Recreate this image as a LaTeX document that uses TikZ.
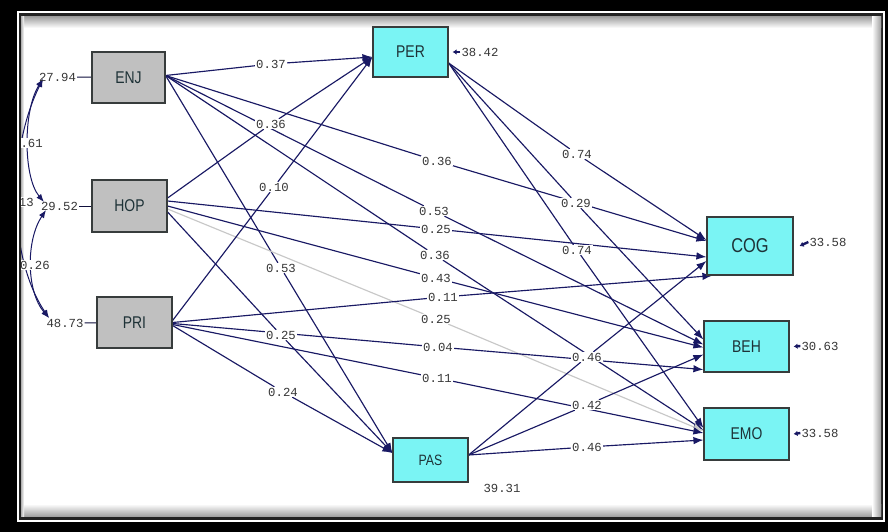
\documentclass[tikz,border=0pt]{standalone}
\usepackage{fontspec}
\newfontfamily\boxfont[FakeStretch=0.82]{Liberation Sans}
\newfontfamily\numfont{Liberation Mono}
\usetikzlibrary{arrows.meta}
\pgfdeclarelayer{bg}
\pgfdeclarelayer{edges}
\pgfdeclarelayer{fg}
\pgfsetlayers{bg,edges,main,fg}
\definecolor{navy}{RGB}{25,25,100}
\definecolor{exogray}{RGB}{192,192,192}
\definecolor{endocyan}{RGB}{122,244,244}
\definecolor{boxline}{RGB}{55,60,60}
\definecolor{boxtext}{RGB}{30,50,55}
\definecolor{numgray}{RGB}{55,55,55}
\definecolor{weakline}{RGB}{200,200,200}
\definecolor{frameline}{RGB}{35,35,35}
\newcommand\boxtxt{\boxfont\fontsize{17pt}{17pt}\selectfont}
\newcommand\coeftxt{\numfont\fontsize{12.3pt}{12.3pt}\selectfont}
\tikzset{
  exo/.style={draw=boxline, fill=exogray, line width=1.2pt, minimum width=75pt,
    minimum height=51pt, inner sep=0pt, font=\boxtxt, text=boxtext},
  endo/.style={exo, fill=endocyan},
  coef/.style={font=\coeftxt, text=numgray, fill=white, inner sep=0.8pt},
  err/.style={font=\coeftxt, text=numgray, inner sep=1pt},
  effect/.style={draw=navy, line width=1.15pt, -{Latex[length=10pt,width=7.5pt]}},
  weak/.style={effect, draw=weakline},
  errarrow/.style={draw=navy, line width=2.4pt, -{Latex[length=4pt,width=5.5pt]}},
  errline/.style={draw=navy!60!black, line width=1pt},
  corr/.style={draw=navy, line width=1pt, {Latex[length=8pt,width=6pt]}-{Latex[length=8pt,width=6pt]}}
}
\begin{document}
\begin{tikzpicture}[x=1pt,y=-1pt]
\useasboundingbox (0,0) rectangle (888,532);
% frame
\begin{pgfonlayer}{bg}
  \fill[black] (0,0) rectangle (888,532);
  \fill[white] (17,11) rectangle (885,522);
  \fill[frameline] (19,13.5) rectangle (883,519.5);
  \fill[white] (21,16.5) rectangle (881,516.5);
  \shade[top color=gray!75, bottom color=white] (21,16.5) rectangle (881,28);
  \shade[bottom color=gray!75, top color=white] (21,504) rectangle (881,516.5);
  \shade[right color=gray!75, left color=white] (872,16.5) rectangle (881,516.5);
  \shade[left color=gray!60, right color=white] (21,16.5) rectangle (24,516.5);
\end{pgfonlayer}

% latent variables
\node[exo, minimum width=73pt] (ENJ) at (128.5,77.5) {ENJ};
\node[exo, minimum height=52pt] (HOP) at (129.5,206) {HOP};
\node[exo] (PRI) at (134.5,322.5) {PRI};
\node[endo, minimum height=50pt] (PER) at (410.5,52) {PER};
\node[endo, minimum height=44pt, font=\boxfont\fontsize{15pt}{15pt}\selectfont] (PAS) at (430.5,460) {PAS};
\node[endo, minimum width=86pt, minimum height=58pt, font=\boxfont\fontsize{20pt}{20pt}\selectfont] (COG) at (750,246) {COG};
\node[endo, minimum width=85pt] (BEH) at (746.5,346.5) {BEH};
\node[endo, minimum width=85pt, minimum height=52pt] (EMO) at (746.5,434) {EMO};

% error variances
\node[err] (eENJ) at (57.5,77) {27.94};
\node[err] (eHOP) at (59.5,206) {29.52};
\node[err] (ePRI) at (65,323) {48.73};
\node[err] (ePER) at (480,52) {38.42};
\node[err] (eCOG) at (828,242) {33.58};
\node[err] (eBEH) at (820,346) {30.63};
\node[err] (eEMO) at (820,433) {33.58};
\node[err] (ePAS) at (502,488) {39.31};

% correlations
\node[coef] (rEH) at (28,143) {0.61};
\node[coef] (rER) at (19,202) {0.13};
\node[coef] (rHR) at (35,265) {0.26};
\coordinate (aENJ) at (43,79);
\coordinate (aHOPu) at (44,202);
\coordinate (aHOPd) at (46,210);
\coordinate (aPRI) at (49,318);

% path coefficients
\node[coef] (cEP) at (271,64) {0.37};
\node[coef] (cHP) at (271,124) {0.36};
\node[coef] (cRP) at (274,187) {0.10};
\node[coef] (cEC) at (437,161) {0.36};
\node[coef] (cEB) at (434,211) {0.53};
\node[coef] (cHC) at (436,229) {0.25};
\node[coef] (cEE) at (435,255) {0.36};
\node[coef] (cES) at (281,268) {0.53};
\node[coef] (cHB) at (436,278) {0.43};
\node[coef] (cRC) at (443,297) {0.11};
\node[coef] (cHE) at (436,319) {0.25};
\node[coef] (cHS) at (281,335) {0.25};
\node[coef] (cRB) at (438,347) {0.04};
\node[coef] (cRE) at (437,378) {0.11};
\node[coef] (cRS) at (283,392) {0.24};
\node[coef] (cPC) at (577,154) {0.74};
\node[coef] (cPB) at (576,203) {0.29};
\node[coef] (cPE) at (577,250) {0.74};
\node[coef] (cSC) at (587,357) {0.46};
\node[coef] (cSB) at (587,405) {0.42};
\node[coef] (cSE) at (587,447) {0.46};

\begin{pgfonlayer}{edges}
  \draw[errline] (eENJ) -- (ENJ);
  \draw[errline] (eHOP) -- (HOP);
  \draw[errline] (ePRI) -- (PRI);
  \draw[corr] (aENJ) .. controls (23,110) and (23,177) .. (aHOPu);
  \draw[corr] (aHOPd) .. controls (26,240) and (26,291) .. (aPRI);
  \draw[corr] (aENJ) .. controls (7.5,150) and (7.5,256) .. (aPRI);
  % ENJ
  \draw[effect] ([yshift=2pt]ENJ.east) -- (cEP) -- ([yshift=-5pt]PER.west);
  \draw[effect] ([yshift=2pt]ENJ.east) -- (cEC) -- ([yshift=5pt]COG.west);
  \draw[effect] ([yshift=2pt]ENJ.east) -- (cEB) -- ([yshift=2pt]BEH.west);
  \draw[effect] ([yshift=2pt]ENJ.east) -- (cEE) -- ([yshift=4pt]EMO.west);
  \draw[effect] ([yshift=2pt]ENJ.east) -- (cES) -- ([yshift=7pt]PAS.west);
  % HOP
  \draw[effect] ([yshift=8pt]HOP.east) -- (cHP) -- ([yshift=-5pt]PER.west);
  \draw[effect] ([yshift=5pt]HOP.east) -- (cHC) -- ([yshift=-11pt]COG.west);
  \draw[effect] (HOP.east) -- (cHB) -- ([yshift=-1pt]BEH.west);
  \draw[weak] ([yshift=-3pt]HOP.east) -- (cHE) -- ([yshift=3pt]EMO.west);
  \draw[effect] ([yshift=-6pt]HOP.east) -- (cHS) -- ([yshift=7pt]PAS.west);
  % PRI
  \draw[effect] ([yshift=2pt]PRI.east) -- (cRP) -- ([yshift=-5pt]PER.west);
  \draw[effect] (PRI.east) -- (cRC) -- ([xshift=6pt]COG.south west);
  \draw[effect] ([yshift=-1pt]PRI.east) -- (cRB) -- ([yshift=3pt]BEH.south west);
  \draw[effect] ([yshift=-2pt]PRI.east) -- (cRE) -- ([yshift=1pt]EMO.west);
  \draw[effect] ([yshift=-3pt]PRI.east) -- (cRS) -- ([yshift=7pt]PAS.west);
  % PER
  \draw[effect] ([yshift=-11pt]PER.east) -- (cPC) -- ([yshift=6pt]COG.west);
  \draw[effect] ([yshift=-11pt]PER.east) -- (cPB) -- ([yshift=7pt]BEH.west);
  \draw[effect] ([yshift=-11pt]PER.east) -- (cPE) -- ([yshift=6pt]EMO.west);
  % PAS
  \draw[effect] ([yshift=5pt]PAS.east) -- (cSC) -- ([yshift=-15pt]COG.west);
  \draw[effect] ([yshift=5pt]PAS.east) -- (cSB) -- ([yshift=-8pt]BEH.west);
  \draw[effect] ([yshift=5pt]PAS.east) -- (cSE) -- ([yshift=-6pt]EMO.west);
  % residuals
  \draw[errarrow] (ePER.west) -- ([xshift=4pt]PER.east);
  \draw[errarrow] (eCOG.west) -- ([xshift=6pt]COG.east);
  \draw[errarrow] (eBEH.west) -- ([xshift=4pt]BEH.east);
  \draw[errarrow] (eEMO.west) -- ([xshift=4pt]EMO.east);
\end{pgfonlayer}

% left edge of the frame over the clipped labels
\begin{pgfonlayer}{fg}
  \fill[black] (0,0) rectangle (17,532);
  \fill[white] (17,11) rectangle (19,522);
  \fill[frameline] (19,13.5) rectangle (21,519.5);
\end{pgfonlayer}
\end{tikzpicture}
\end{document}
